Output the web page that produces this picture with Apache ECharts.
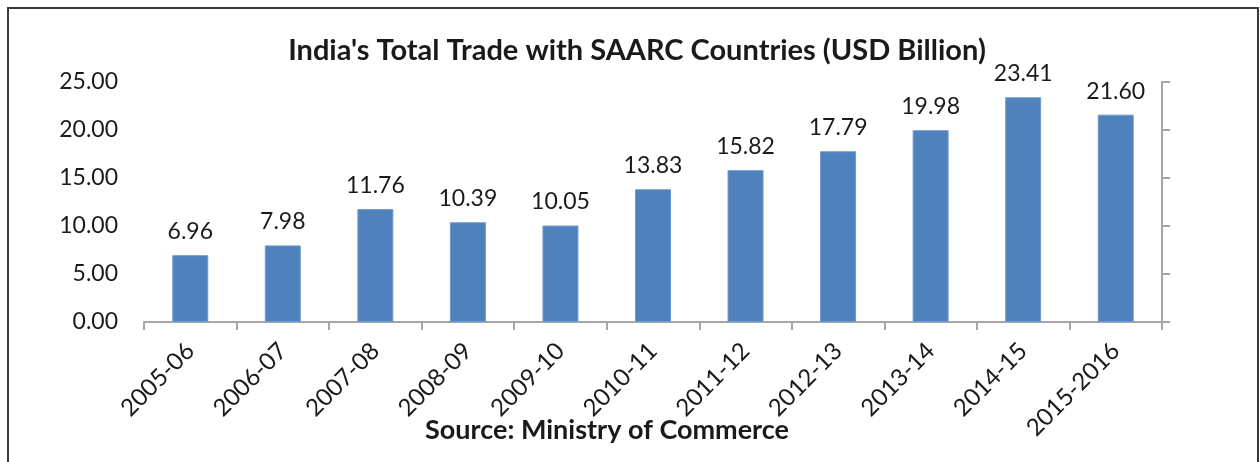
<!DOCTYPE html>
<html>
<head>
<meta charset="utf-8">
<script src="https://cdn.jsdelivr.net/npm/echarts@6/dist/echarts.min.js"></script>
<style>
  html, body { margin: 0; padding: 0; background: #fff; }
  #main { width: 1260px; height: 462px; }
</style>
</head>
<body>
<div id="main"></div>
<script>
// data
const years = ['2005-06', '2006-07', '2007-08', '2008-09', '2009-10', '2010-11',
  '2011-12', '2012-13', '2013-14', '2014-15', '2015-2016']
const trade = [6.96, 7.98, 11.76, 10.39, 10.05, 13.83, 15.82, 17.79, 19.98, 23.41, 21.60]
const yTicks = [0, 5, 10, 15, 20, 25]

const font = 'Lato'
const axisGray = '#a6a6a6'

let myChart = echarts.init(document.getElementById('main'))
myChart.setOption({
  animation: false,
  textStyle: { fontFamily: font },
  title: {
    text: "India's Total Trade with SAARC Countries (USD Billion)",
    left: 632,
    textAlign: 'center',
    top: 31,
    textStyle: { fontFamily: font, fontSize: 29, fontWeight: 'bold', color: '#1a1a1a' }
  },
  graphic: [
    {
      type: 'rect',
      shape: { x: 8, y: 8, width: 1250, height: 480 },
      style: { fill: 'none', stroke: '#3a3a3a', lineWidth: 2 }
    },
    {
      type: 'text',
      x: 607,
      y: 430,
      style: {
        text: 'Source: Ministry of Commerce',
        font: 'bold 27px Lato',
        fill: '#1a1a1a',
        textAlign: 'center',
        textVerticalAlign: 'middle'
      }
    }
  ],
  grid: { left: 144, right: 98, top: 82, bottom: 140 },
  xAxis: [
    {
      type: 'category',
      data: years,
      axisLine: { lineStyle: { color: axisGray, width: 2 } },
      axisTick: { show: true, length: 8, lineStyle: { color: axisGray, width: 2 } },
      axisLabel: { rotate: 45, fontSize: 24, color: '#1a1a1a', margin: 25, fontFamily: font }
    },
    {
      // small tick marks at the bar centres
      type: 'category',
      data: years,
      position: 'bottom',
      axisLine: { show: false },
      axisTick: { show: true, inside: true, alignWithLabel: true, length: 5, lineStyle: { color: axisGray, width: 2 } },
      axisLabel: { show: false }
    }
  ],
  yAxis: [
    {
      type: 'value',
      min: yTicks[0],
      max: yTicks[yTicks.length - 1],
      interval: 5,
      splitLine: { show: false },
      axisLine: { show: false },
      axisTick: { show: false },
      axisLabel: {
        fontSize: 23,
        color: '#1a1a1a',
        margin: 26,
        fontFamily: font,
        formatter: v => v.toFixed(2)
      }
    },
    {
      type: 'value',
      position: 'right',
      min: yTicks[0],
      max: yTicks[yTicks.length - 1],
      interval: 5,
      splitLine: { show: false },
      axisLine: { show: true, lineStyle: { color: axisGray, width: 2 } },
      axisTick: { show: true, length: 8, lineStyle: { color: axisGray, width: 2 } },
      axisLabel: { show: false }
    }
  ],
  series: [
    {
      type: 'bar',
      data: trade,
      barWidth: 36,
      itemStyle: { color: '#4f81bd', borderColor: '#6f9bd1', borderWidth: 1 },
      label: {
        show: true,
        position: 'top',
        distance: 12,
        fontSize: 23,
        color: '#1a1a1a',
        fontFamily: font,
        formatter: p => p.value.toFixed(2)
      }
    }
  ]
})
</script>
</body>
</html>
